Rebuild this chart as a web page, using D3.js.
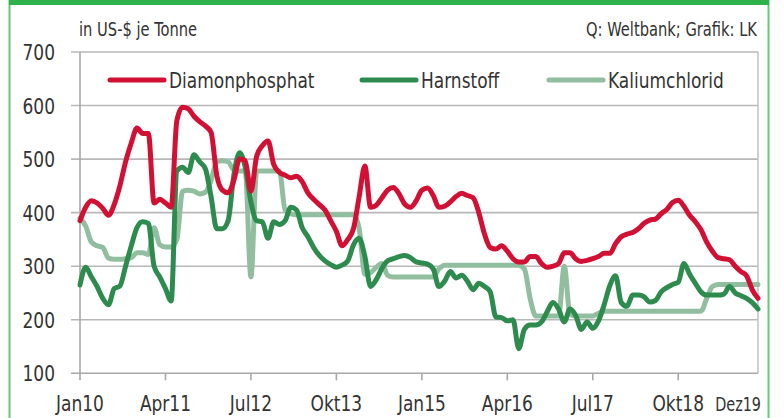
<!DOCTYPE html>
<html><head><meta charset="utf-8">
<script src="https://cdn.jsdelivr.net/npm/d3@7"></script>
<style>
html,body{margin:0;padding:0;background:#fff;}
svg text{font-family:"DejaVu Sans Condensed","DejaVu Sans",sans-serif;font-stretch:condensed;fill:#333;}
</style></head>
<body><svg id="c" width="784" height="418"></svg>
<script>
const nMonths = 120;
const tickLabels = ["Jan10","Apr11","Jul12","Okt13","Jan15","Apr16","Jul17","Okt18","Dez19"];
const tickMonths = [0,15,30,45,60,75,90,105,119];
const yTicks = [100,200,300,400,500,600,700];
const seriesNames = ["Diamonphosphat","Harnstoff","Kaliumchlorid"];
const seriesColors = ["#d21034","#2e8b4e","#92bea0"];

const dap = [385,410,422,418,408,395,415,450,495,530,558,548,548,418,425,418,410,572,597,594,580,570,562,550,
470,442,437,460,500,497,440,505,525,534,490,475,470,465,468,458,437,425,415,405,385,365,338,350,
370,430,487,410,414,428,442,447,435,416,410,422,442,446,432,410,412,420,430,436,432,428,400,360,
335,332,338,328,314,308,308,318,318,305,298,300,305,325,325,314,309,311,314,318,324,324,342,355,
360,363,370,380,386,388,398,406,419,423,412,395,383,368,345,328,316,314,312,300,290,282,256,240];

const harnstoff = [265,298,280,262,240,228,258,263,300,338,372,383,380,300,280,258,235,478,485,475,508,495,482,430,
370,370,385,470,512,485,420,385,383,352,383,378,385,410,405,372,355,335,320,310,303,298,302,310,
340,352,318,262,275,296,310,314,318,320,316,308,306,304,295,262,272,290,278,283,272,256,268,262,
252,205,204,198,200,146,182,190,190,196,215,232,220,196,220,208,182,196,184,198,228,264,282,232,
225,246,246,243,233,236,252,260,266,270,305,285,268,252,246,246,246,248,262,250,245,240,232,220];

const kalium = [390,375,345,338,335,315,313,313,314,316,325,325,322,372,340,336,336,350,440,442,440,435,438,460,
495,497,495,480,478,478,280,478,478,478,478,478,405,398,396,396,396,396,396,396,396,396,396,396,
396,370,285,288,298,305,283,280,280,280,280,280,280,280,280,295,302,302,302,302,302,302,302,302,
302,302,302,302,302,302,295,240,207,207,207,207,207,300,210,207,207,207,207,212,216,216,216,216,
216,216,216,216,216,216,216,216,216,216,216,216,216,216,240,262,266,266,266,266,266,266,266,266];

const svg = d3.select("#c");
const L = 80, R = 758, T = 52, B = 373.3;
const x = d3.scaleLinear().domain([0, nMonths-1]).range([L, R]);
const y = d3.scaleLinear().domain([100, 700]).range([B, T]);
const SX = 0.86;
function txt(sel){ // condensed text helper
  return sel.attr("transform", d => `translate(${d.x},${d.y}) scale(${d.s||SX},1)`)
    .attr("text-anchor", d => d.a || "start").attr("font-size", d => d.f).text(d => d.t);
}

// outer frame
svg.append("rect").attr("x",9.5).attr("y",-2).attr("width",759).attr("height",425)
  .attr("fill","none").attr("stroke","#62c872").attr("stroke-width",2);
svg.append("rect").attr("x",9).attr("y",0).attr("width",760).attr("height",5).attr("fill","#2fb24b");

// header texts
txt(svg.append("g").selectAll("text").data([
  {x:79,y:36,f:19,t:"in US-$ je Tonne"},
  {x:757,y:36,f:19,t:"Q: Weltbank; Grafik: LK",a:"end"}]).join("text"));

// grid lines
svg.append("g").selectAll("line").data(yTicks).join("line")
  .attr("x1",71).attr("x2",R).attr("y1",d=>y(d)).attr("y2",d=>y(d))
  .attr("stroke",d=>d===100?"#a8a8a8":"#b8b8b8").attr("stroke-width",1.6);
svg.append("line").attr("x1",R).attr("x2",R).attr("y1",T).attr("y2",B).attr("stroke","#c4c4c4").attr("stroke-width",1.6);
svg.append("line").attr("x1",L).attr("x2",L).attr("y1",T).attr("y2",B).attr("stroke","#a8a8a8").attr("stroke-width",1.6);
svg.append("g").selectAll("line").data(tickMonths.slice(0,8)).join("line")
  .attr("x1",d=>x(d)).attr("x2",d=>x(d)).attr("y1",B).attr("y2",B+7)
  .attr("stroke","#a8a8a8").attr("stroke-width",1.6);

// y labels
txt(svg.append("g").selectAll("text").data(yTicks.map(v=>({x:55,y:y(v)+8,f:22,t:String(v),a:"end"}))).join("text"));
// x labels
txt(svg.append("g").selectAll("text").data(tickLabels.map((t,i)=>(
  i===8 ? {x:761,y:411,f:20,t:t,a:"end",s:0.8} : {x:x(tickMonths[i]),y:411,f:22,t:t,a:"middle"}))).join("text"));

// lines
const line = d3.line().x((d,i)=>x(i)).y(d=>y(d)).curve(d3.curveMonotoneX);
const data = [kalium, harnstoff, dap];
const cols = [seriesColors[2], seriesColors[1], seriesColors[0]];
svg.append("g").selectAll("path").data(data).join("path")
  .attr("d", line).attr("fill","none").attr("stroke",(d,i)=>cols[i])
  .attr("stroke-width",5).attr("stroke-linejoin","round").attr("stroke-linecap","round");

// legend
const legX = [110, 362, 549];
svg.append("g").selectAll("line").data(seriesNames).join("line")
  .attr("x1",(d,i)=>legX[i]).attr("x2",(d,i)=>legX[i]+54).attr("y1",80).attr("y2",80)
  .attr("stroke",(d,i)=>seriesColors[i]).attr("stroke-width",5).attr("stroke-linecap","round");
txt(svg.append("g").selectAll("text").data(seriesNames.map((t,i)=>({x:legX[i]+59,y:88,f:22,t:t}))).join("text"));
</script></body></html>
